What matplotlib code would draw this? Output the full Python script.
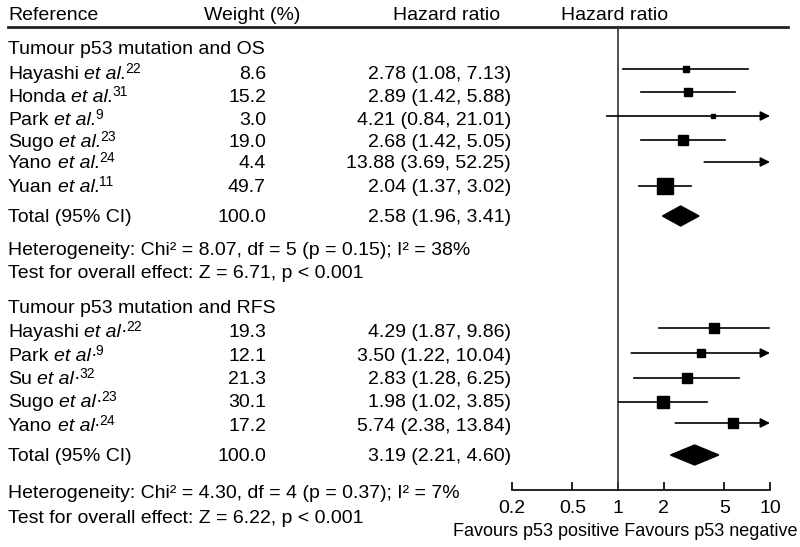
import numpy as np
import matplotlib
matplotlib.use("Agg")
import matplotlib.pyplot as plt
from matplotlib.patches import Polygon

plt.rcParams['font.family'] = ['Liberation Sans', 'DejaVu Sans']

# ---------------- data ----------------
os_authors = ["Hayashi", "Honda", "Park", "Sugo", "Yano", "Yuan"]
os_refs = ["22", "31", "9", "23", "24", "11"]
os_weight = [8.6, 15.2, 3.0, 19.0, 4.4, 49.7]
os_hr = [2.78, 2.89, 4.21, 2.68, 13.88, 2.04]
os_lo = [1.08, 1.42, 0.84, 1.42, 3.69, 1.37]
os_hi = [7.13, 5.88, 21.01, 5.05, 52.25, 3.02]
os_total = (2.58, 1.96, 3.41)
os_het = "Heterogeneity: Chi² = 8.07, df = 5 (p = 0.15); I² = 38%"
os_test = "Test for overall effect: Z = 6.71, p < 0.001"

rfs_authors = ["Hayashi", "Park", "Su", "Sugo", "Yano"]
rfs_refs = ["22", "9", "32", "23", "24"]
rfs_weight = [19.3, 12.1, 21.3, 30.1, 17.2]
rfs_hr = [4.29, 3.50, 2.83, 1.98, 5.74]
rfs_lo = [1.87, 1.22, 1.28, 1.02, 2.38]
rfs_hi = [9.86, 10.04, 6.25, 3.85, 13.84]
rfs_total = (3.19, 2.21, 4.60)
rfs_het = "Heterogeneity: Chi² = 4.30, df = 4 (p = 0.37); I² = 7%"
rfs_test = "Test for overall effect: Z = 6.22, p < 0.001"

xticks = [0.2, 0.5, 1, 2, 5, 10]
xticklabels = ["0.2", "0.5", "1", "2", "5", "10"]
XMIN, XMAX = 0.2, 10

# ---------------- layout (pixel rows) ----------------
W, H = 800, 547
fig = plt.figure(figsize=(W / 100, H / 100), dpi=100)
renderer = fig.canvas.get_renderer()
tax = fig.add_axes([0, 0, 1, 1])
tax.set_xlim(0, W)
tax.set_ylim(H, 0)
tax.axis('off')

fax = fig.add_axes([512 / W, 0, 258 / W, 1])
fax.set_xscale('log')
fax.set_xlim(XMIN, XMAX)
fax.set_ylim(H, 0)
fax.patch.set_alpha(0)
for s in ['top', 'left', 'right']:
    fax.spines[s].set_visible(False)
fax.spines['bottom'].set_position(('data', 490))
fax.spines['bottom'].set_linewidth(1.2)
fax.set_yticks([])
fax.set_xticks(xticks)
fax.set_xticklabels(xticklabels, fontsize=14)
fax.xaxis.set_minor_locator(matplotlib.ticker.NullLocator())
fax.tick_params(axis='x', direction='in', length=6, width=1.2, pad=7)

FS = 14
X_REF, X_W, X_HR = 8, 266, 511
HALF_CAP = 7
SPACE = 0.278 * FS * 100 / 72


def T(x, yc, s, ha='left', fs=FS, **kw):
    return tax.text(x, yc + HALF_CAP, s, fontsize=fs, va='baseline', ha=ha, **kw)


def width(t):
    return t.get_window_extent(renderer).width


def label(x, yc, author, ref, dot):
    t1 = T(x, yc, author)
    x += width(t1) + SPACE
    t2 = T(x, yc, "et al" if dot else "et al.", style='italic')
    x += width(t2)
    if dot:
        t3 = T(x - 0.5, yc - 1, "·")
        x += width(t3) - 0.5
    T(x - 1, yc - 6, ref, fs=10)


# header
T(X_REF, 13, "Reference")
T(252, 13, "Weight (%)", ha='center')
T(447, 13, "Hazard ratio", ha='center')
T(615, 13, "Hazard ratio", ha='center')
tax.plot([8, 788], [27, 27], color='#222222', lw=2)

# null line
fax.plot([1, 1], [27, 490], color='#333333', lw=1.2)

K = 1.63  # marker size scale (pt per sqrt(weight))


def study_rows(authors, refs, weight, hr, lo, hi, rows_marker, rows_text, dot):
    for i in range(len(authors)):
        label(X_REF, rows_text[i], authors[i], refs[i], dot)
        T(X_W, rows_text[i], f"{weight[i]:.1f}", ha='right')
        T(X_HR, rows_text[i], f"{hr[i]:.2f} ({lo[i]:.2f}, {hi[i]:.2f})", ha='right')
        y = rows_marker[i]
        l = max(lo[i], XMIN)
        h = min(hi[i], XMAX)
        if hi[i] > XMAX:
            fax.annotate('', xy=(XMAX, y), xytext=(l, y),
                         arrowprops=dict(arrowstyle='-|>', color='black', lw=1.2,
                                         mutation_scale=14, shrinkA=0, shrinkB=0))
        else:
            fax.plot([l, h], [y, y], color='black', lw=1.2)
        if XMIN <= hr[i] <= XMAX:
            fax.plot([hr[i]], [y], marker='s', color='black',
                     markersize=K * np.sqrt(weight[i]), linestyle='none')


def diamond(total, y, half=10):
    est, lo, hi = total
    fax.add_patch(Polygon([(lo, y), (est, y - half), (hi, y), (est, y + half)],
                          closed=True, facecolor='black', edgecolor='black'))


# OS section
T(X_REF, 47, "Tumour p53 mutation and OS")
study_rows(os_authors, os_refs, os_weight, os_hr, os_lo, os_hi,
           [69, 92, 116, 140, 162, 186], [72, 95, 118, 140, 161, 185], False)
T(X_REF, 215, "Total (95% CI)")
T(X_W, 215, "100.0", ha='right')
T(X_HR, 215, f"{os_total[0]:.2f} ({os_total[1]:.2f}, {os_total[2]:.2f})", ha='right')
diamond(os_total, 216)
T(X_REF, 248, os_het)
T(X_REF, 271, os_test)

# RFS section
T(X_REF, 306, "Tumour p53 mutation and RFS")
study_rows(rfs_authors, rfs_refs, rfs_weight, rfs_hr, rfs_lo, rfs_hi,
           [328, 353, 378, 402, 423], [330, 354, 377, 400, 424], True)
T(X_REF, 454, "Total (95% CI)")
T(X_W, 454, "100.0", ha='right')
T(X_HR, 454, f"{rfs_total[0]:.2f} ({rfs_total[1]:.2f}, {rfs_total[2]:.2f})", ha='right')
diamond(rfs_total, 455)
T(X_REF, 491, rfs_het)
T(X_REF, 516, rfs_test)

T(625, 529, "Favours p53 positive Favours p53 negative", ha='center', fs=13)

fig.savefig("out.png", dpi=100)
